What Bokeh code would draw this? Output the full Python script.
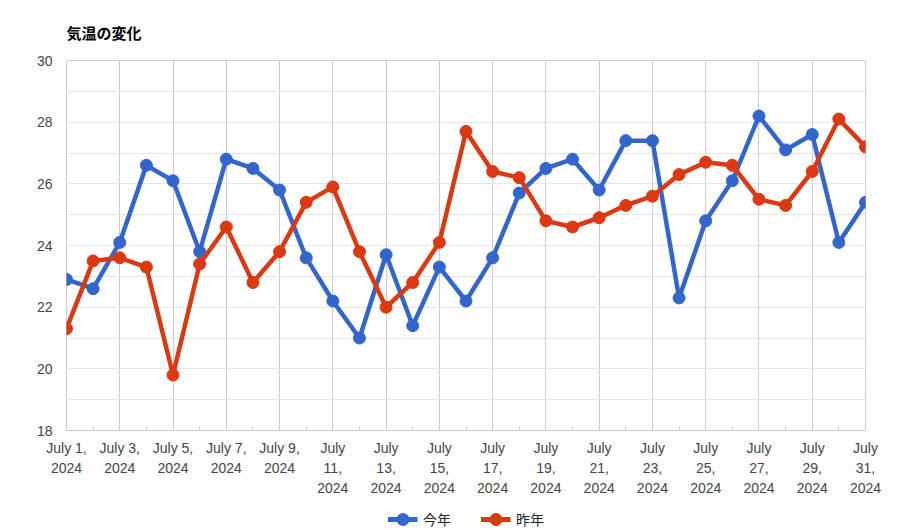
from bokeh.plotting import figure
from bokeh.layouts import column
from bokeh.models import FixedTicker, SingleIntervalTicker, Legend, LegendItem, Range1d
from bokeh.embed import file_html
from bokeh.resources import INLINE

days = list(range(1, 32))
this_year = [22.9, 22.6, 24.1, 26.6, 26.1, 23.8, 26.8, 26.5, 25.8, 23.6,
             22.2, 21.0, 23.7, 21.4, 23.3, 22.2, 23.6, 25.7, 26.5, 26.8,
             25.8, 27.4, 27.4, 22.3, 24.8, 26.1, 28.2, 27.1, 27.6, 24.1, 25.4]
last_year = [21.3, 23.5, 23.6, 23.3, 19.8, 23.4, 24.6, 22.8, 23.8, 25.4,
             25.9, 23.8, 22.0, 22.8, 24.1, 27.7, 26.4, 26.2, 24.8, 24.6,
             24.9, 25.3, 25.6, 26.3, 26.7, 26.6, 25.5, 25.3, 26.4, 28.1, 27.2]
tick_days = list(range(1, 32, 2))
tick_labels = ["July 1,\n2024", "July 3,\n2024", "July 5,\n2024", "July 7,\n2024",
               "July 9,\n2024", "July\n11,\n2024", "July\n13,\n2024", "July\n15,\n2024",
               "July\n17,\n2024", "July\n19,\n2024", "July\n21,\n2024", "July\n23,\n2024",
               "July\n25,\n2024", "July\n27,\n2024", "July\n29,\n2024", "July\n31,\n2024"]
series_names = ["今年", "昨年"]
series_colors = ["#3366CC", "#DC3912"]
all_series = [this_year, last_year]

p = figure(width=906, height=500, output_backend="svg", toolbar_location=None,
           x_range=Range1d(1, 31), y_range=Range1d(18, 30),
           min_border_left=66, min_border_right=41, min_border_top=60, min_border_bottom=70)

p.title.text = "気温の変化"
p.title.text_font = "Noto Sans CJK JP"
p.title.text_font_size = "15px"
p.title.text_font_style = "bold"
p.title.text_color = "#000000"
p.title.align = "left"
p.title.vertical_align = "middle"
p.title.standoff = 34

p.outline_line_color = "#cccccc"
p.outline_line_width = 1

# x axis
p.xaxis.ticker = FixedTicker(ticks=tick_days, minor_ticks=[d for d in days if d % 2 == 0])
p.xaxis.major_label_overrides = {d: lab for d, lab in zip(tick_days, tick_labels)}
p.xaxis.axis_line_color = None
p.xaxis.major_tick_line_color = None
p.xaxis.major_tick_out = 0
p.xaxis.major_tick_in = 0
p.xaxis.minor_tick_line_color = "#cccccc"
p.xaxis.minor_tick_in = 4
p.xaxis.minor_tick_out = 0
p.xaxis.major_label_text_font = "Liberation Sans"
p.xaxis.major_label_text_font_size = "14px"
p.xaxis.major_label_text_color = "#444444"
p.xaxis.major_label_text_line_height = 1.26
p.xaxis.major_label_standoff = 9

# y axis
p.yaxis.ticker = SingleIntervalTicker(interval=2, num_minor_ticks=2)
p.yaxis.axis_line_color = None
p.yaxis.major_tick_line_color = None
p.yaxis.major_tick_out = 0
p.yaxis.major_tick_in = 0
p.yaxis.minor_tick_line_color = None
p.yaxis.minor_tick_out = 0
p.yaxis.major_label_text_font = "Liberation Sans"
p.yaxis.major_label_text_font_size = "14px"
p.yaxis.major_label_text_color = "#444444"
p.yaxis.major_label_standoff = 14

p.xgrid.grid_line_color = "#cccccc"
p.ygrid.grid_line_color = "#e6e6e6"
p.ygrid.minor_grid_line_color = "#e6e6e6"

for vals, col in zip(all_series, series_colors):
    p.line(days, vals, line_color=col, line_width=4.5)
    p.scatter(days, vals, marker="circle", size=12, fill_color=col, line_color=col)

# legend strip below the chart (its data lies outside the strip's view)
lg = figure(width=906, height=30, output_backend="svg", toolbar_location=None,
            title=None, x_range=Range1d(0, 1), y_range=Range1d(0, 1),
            min_border_left=23, min_border_right=0, min_border_top=8, min_border_bottom=0)
lg.axis.visible = False
lg.grid.grid_line_color = None
lg.outline_line_color = None
items = []
for vals, name, col in zip(all_series, series_names, series_colors):
    l = lg.line(days, vals, line_color=col, line_width=5)
    s = lg.scatter(days, vals, marker="circle", size=12, fill_color=col, line_color=col)
    items.append(LegendItem(label=name, renderers=[l, s]))
legend = Legend(items=items, orientation="horizontal", location="center",
                label_text_font="Noto Sans CJK JP", label_text_font_size="14px",
                label_text_color="#222222", glyph_width=30, glyph_height=30,
                spacing=29, padding=0, margin=0, border_line_color=None,
                background_fill_alpha=0, label_standoff=6)
lg.add_layout(legend, "center")

layout = column(p, lg, spacing=0)
open("out.html", "w").write(file_html(layout, INLINE))
